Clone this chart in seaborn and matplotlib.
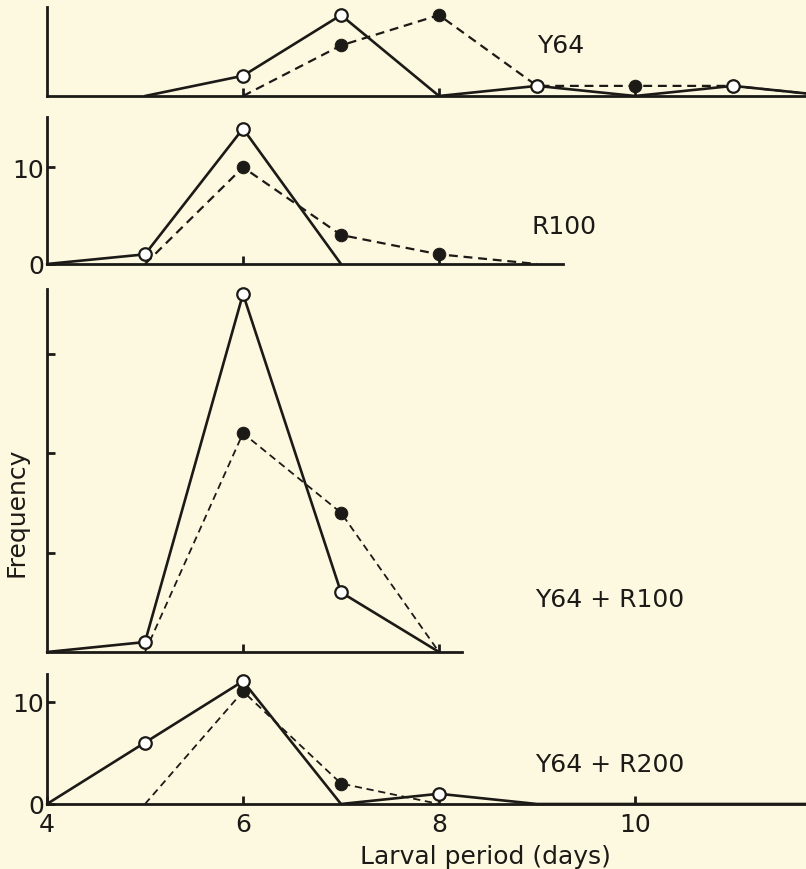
import numpy as np
import pandas as pd
import matplotlib
matplotlib.use("Agg")
import matplotlib.pyplot as plt
import seaborn as sns

# ===============================
# Data
# ===============================
panel_names = ["Y64", "R100", "Y64 + R100", "Y64 + R200"]

y64_open_x = [5, 6, 7, 8, 9, 10, 11, 12]
y64_open_y = [0, 2, 8, 0, 1, 0, 1, 0]
y64_filled_x = [6, 7, 8, 9, 10, 11, 12]
y64_filled_y = [0, 5, 8, 1, 1, 1, 0]

r100_open_x = [4, 5, 6, 7]
r100_open_y = [0, 1, 14, 0]
r100_filled_x = [5, 6, 7, 8, 9]
r100_filled_y = [0, 10, 3, 1, 0]

mix100_open_x = [4, 5, 6, 7, 8]
mix100_open_y = [0, 1, 36, 6, 0]
mix100_filled_x = [5, 6, 7, 8]
mix100_filled_y = [0, 22, 14, 0]

mix200_open_x = [4, 5, 6, 7, 8, 9, 12]
mix200_open_y = [0, 6, 12, 0, 1, 0, 0]
mix200_filled_x = [5, 6, 7, 8]
mix200_filled_y = [0, 11, 2, 0]

# ===============================
# Style
# ===============================
bg = "#fdf9e0"
ink = "#1c1a17"

sns.set_style("white")
plt.rcParams["font.family"] = ["DejaVu Sans"]
plt.rcParams["axes.facecolor"] = bg

fig = plt.figure(figsize=(8.06, 8.70), dpi=100, facecolor=bg)
W, H = 806, 870
X0 = 47        # pixel of x = 4
PPD = 98       # pixels per day
FS = 18


def make_axes(top, bottom, right):
    ax = fig.add_axes([X0 / W, 1 - bottom / H, (right - X0) / W, (bottom - top) / H])
    ax.set_facecolor(bg)
    ax.set_xlim(4, 4 + (right - X0) / PPD)
    for s in ["top", "right"]:
        ax.spines[s].set_visible(False)
    for s in ["left", "bottom"]:
        ax.spines[s].set_linewidth(2)
        ax.spines[s].set_color(ink)
    ax.tick_params(bottom=True, left=True, direction="in", length=6, width=2,
                   colors=ink, labelsize=FS)
    ax.tick_params(axis="x", pad=6)
    ax.tick_params(axis="y", pad=2)
    ax.set_xlabel("")
    ax.set_ylabel("")
    return ax


def draw(ax, xo, yo, xf, yf, lw_dash=1.6):
    sns.lineplot(x=xf, y=yf, ax=ax, color=ink, lw=lw_dash,
                 ls=(0, (4, 2.6)), marker="o", markersize=9,
                 markerfacecolor=ink, markeredgecolor=ink, clip_on=False)
    sns.lineplot(x=xo, y=yo, ax=ax, color=ink, lw=1.9,
                 marker="o", markersize=9, markerfacecolor="white",
                 markeredgecolor=ink, markeredgewidth=1.6, clip_on=False)
    # hide the baseline markers (zero values carry no dot)
    for line in ax.lines:
        yd = line.get_ydata()
        line.set_markevery([i for i in range(len(yd)) if yd[i] > 0])
        line.set_zorder(3)


# Panel 1: Y64
ax1 = make_axes(8, 97, 806)
draw(ax1, y64_open_x, y64_open_y, y64_filled_x, y64_filled_y)
ax1.set_ylim(0, 8.8)
ax1.set_yticks([])
ax1.set_xticks([6, 8, 10])
ax1.set_xticklabels([])

# Panel 2: R100
ax2 = make_axes(118, 265, 563)
draw(ax2, r100_open_x, r100_open_y, r100_filled_x, r100_filled_y)
ax2.set_ylim(0, 15.2)
ax2.set_yticks([0, 10])
ax2.set_xticks([6, 8])
ax2.set_xticklabels([])

# Panel 3: Y64 + R100
ax3 = make_axes(290, 653, 462)
draw(ax3, mix100_open_x, mix100_open_y, mix100_filled_x, mix100_filled_y, lw_dash=1.3)
ax3.set_ylim(0, 36.5)
ax3.set_yticks([10, 20, 30])
ax3.set_yticklabels([])
ax3.set_xticks([6, 8])
ax3.set_xticklabels([])

# Panel 4: Y64 + R200
ax4 = make_axes(675, 805, 806)
draw(ax4, mix200_open_x, mix200_open_y, mix200_filled_x, mix200_filled_y, lw_dash=1.3)
ax4.set_ylim(0, 12.7)
ax4.set_yticks([0, 10])
ax4.set_xticks([4, 6, 8, 10])

for ax in [ax1, ax2, ax3, ax4]:
    for lab in ax.get_xticklabels() + ax.get_yticklabels():
        lab.set_color(ink)

# panel labels
label_pos = [(537, 46), (531, 227), (535, 600), (535, 765)]
for name, (px, py) in zip(panel_names, label_pos):
    fig.text(px / W, 1 - py / H, name, ha="left", va="center",
             fontsize=FS, color=ink)

fig.text(17 / W, 1 - 512 / H, "Frequency", rotation=90, ha="center",
         va="center", fontsize=FS, color=ink)
fig.text(485 / W, 1 - 857 / H, "Larval period (days)", ha="center",
         va="center", fontsize=FS, color=ink)

plt.savefig("out.png", dpi=100, facecolor=bg)
